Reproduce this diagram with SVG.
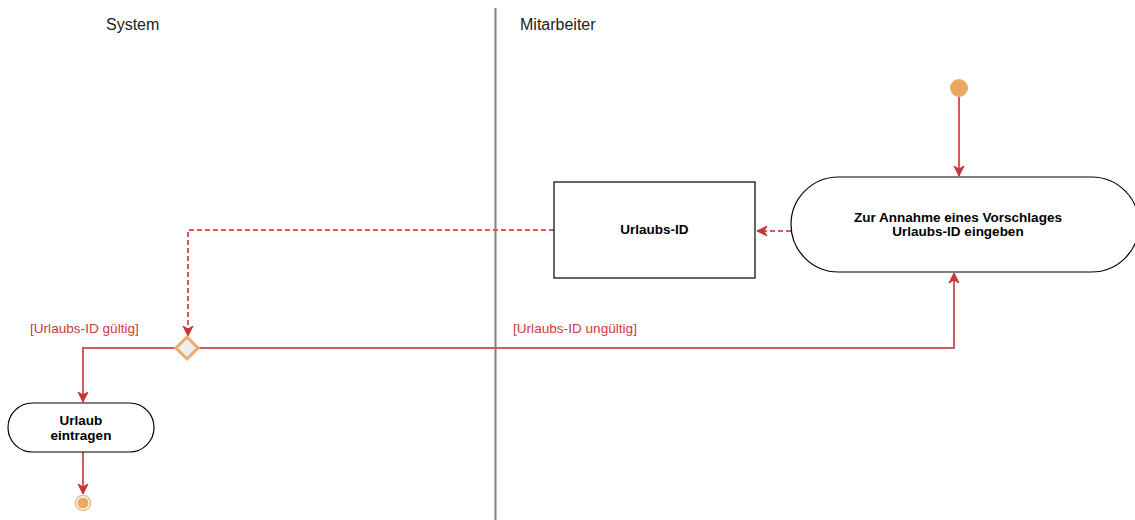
<svg xmlns="http://www.w3.org/2000/svg" width="1135" height="520" viewBox="0 0 1135 520">
  <style>
    .lane-title { font-family: "Liberation Sans", Arial, sans-serif; font-size: 16px; fill: #222; }
    .node-text { font-family: "Liberation Sans", Arial, sans-serif; font-size: 13.5px; font-weight: bold; fill: #000; text-anchor: middle; }
    .guard { font-family: "Liberation Sans", Arial, sans-serif; font-size: 13.6px; fill: #c83c3c; }
    .flow { fill: none; stroke: #d05c5c; stroke-width: 2; }
    .dashed { stroke-dasharray: 5 3; }
    .box { fill: #fff; stroke: #000; stroke-width: 1.2; }
  </style>
  <defs>
    <marker id="arrow" viewBox="0 0 12 12" refX="11" refY="6" markerWidth="12" markerHeight="12" markerUnits="userSpaceOnUse" orient="auto">
      <path d="M1 1 L11 6 L1 11 L4 6 Z" fill="#c63636" stroke="#c63636" stroke-width="1" stroke-linejoin="round"/>
    </marker>
  </defs>

  <rect width="1135" height="520" fill="#fff"/>

  <!-- swimlanes -->
  <g id="lanes">
    <line x1="495.5" y1="8" x2="495.5" y2="520" stroke="#808080" stroke-width="2"/>
    <text class="lane-title" x="106" y="30">System</text>
    <text class="lane-title" x="520" y="30">Mitarbeiter</text>
  </g>

  <!-- connectors -->
  <g id="connectors">
    <path class="flow" d="M959 97 V176" marker-end="url(#arrow)"/>
    <path class="flow dashed" d="M791 231 H757" marker-end="url(#arrow)"/>
    <path class="flow dashed" d="M554 230 H188 V336" marker-end="url(#arrow)"/>
    <path class="flow" d="M199 348 H954 V273" marker-end="url(#arrow)"/>
    <path class="flow" d="M176 348 H83 V402" marker-end="url(#arrow)"/>
    <path class="flow" d="M83 452 V494" marker-end="url(#arrow)"/>
    <text class="guard" x="30" y="333">[Urlaubs-ID gültig]</text>
    <text class="guard" x="513" y="333">[Urlaubs-ID ungültig]</text>
  </g>

  <!-- start -->
  <g id="start">
    <circle cx="959" cy="88" r="9" fill="#e9a964"/>
  </g>

  <!-- action: enter vacation ID -->
  <g id="enter-id">
    <rect class="box" x="791" y="177" width="348" height="95" rx="47.5" ry="47.5"/>
    <text class="node-text" x="958" y="222">Zur Annahme eines Vorschlages</text>
    <text class="node-text" x="958" y="236">Urlaubs-ID eingeben</text>
  </g>

  <!-- object: vacation ID -->
  <g id="urlaubs-id">
    <rect class="box" x="554" y="182" width="201" height="96"/>
    <text class="node-text" x="654.5" y="234">Urlaubs-ID</text>
  </g>

  <!-- decision -->
  <g id="decision">
    <path d="M187 337 L198 348 L187 359 L176 348 Z" fill="#efefef" stroke="#e9ad6e" stroke-width="3" stroke-linejoin="miter"/>
  </g>

  <!-- action: record vacation -->
  <g id="urlaub-eintragen">
    <rect class="box" x="8" y="403" width="146" height="49" rx="24.5" ry="24.5"/>
    <text class="node-text" x="81" y="425">Urlaub</text>
    <text class="node-text" x="81" y="440">eintragen</text>
  </g>

  <!-- end -->
  <g id="end">
    <circle cx="83" cy="503" r="7.5" fill="#fff" stroke="#e9a964" stroke-width="1.2"/>
    <circle cx="83" cy="503" r="5.5" fill="#e9a964"/>
  </g>
</svg>
